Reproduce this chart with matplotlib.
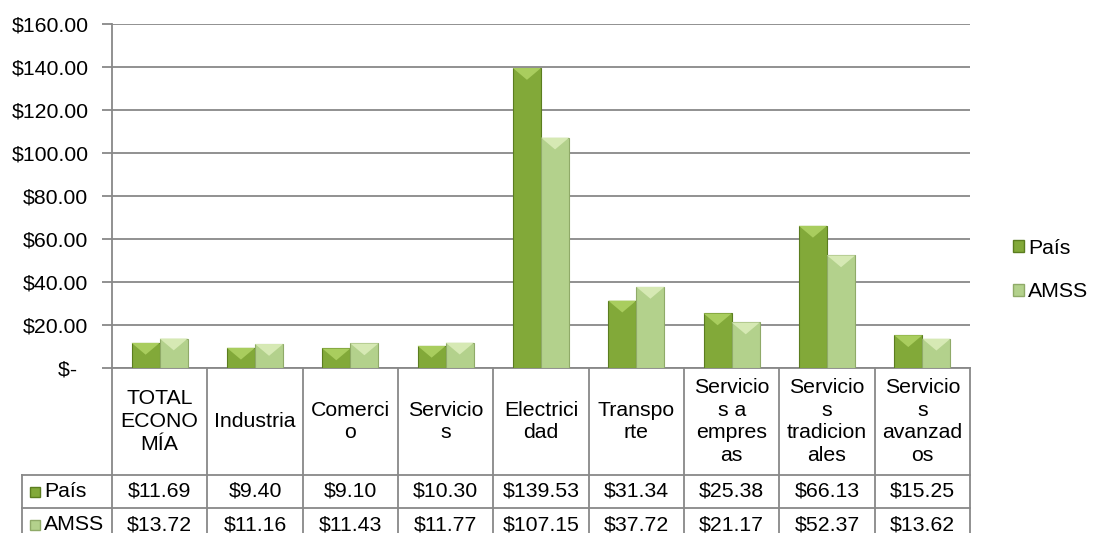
import numpy as np
import matplotlib.pyplot as plt
import matplotlib.transforms as mtransforms
from matplotlib.patches import Patch, Polygon

plt.rcParams['font.family'] = ['Liberation Sans', 'DejaVu Sans']

# data
categories = ['TOTAL\nECONO\nMÍA', 'Industria', 'Comerci\no', 'Servicio\ns',
              'Electrici\ndad', 'Transpo\nrte', 'Servicio\ns a\nempres\nas',
              'Servicio\ns\ntradicion\nales', 'Servicio\ns\navanzad\nos']
pais = [11.69, 9.40, 9.10, 10.30, 139.53, 31.34, 25.38, 66.13, 15.25]
amss = [13.72, 11.16, 11.43, 11.77, 107.15, 37.72, 21.17, 52.37, 13.62]
series_names = ['País', 'AMSS']
yticks = [0, 20, 40, 60, 80, 100, 120, 140, 160]

c_pais, e_pais, t_pais = '#82a939', '#5b7d1f', '#a9cd5e'
c_amss, e_amss, t_amss = '#b3d18c', '#8faa68', '#d6e9b4'
grid_c = '#888888'
fs = 15.3

fig = plt.figure(figsize=(11.07, 5.33), dpi=100)
ax = fig.add_axes([112 / 1107, 1 - 368 / 533, 858 / 1107, 344 / 533])

x = np.arange(len(categories))
w = 0.295
bp = ax.bar(x - w / 2, pais, w, color=c_pais, edgecolor=e_pais, linewidth=0.8, zorder=3)
ba = ax.bar(x + w / 2, amss, w, color=c_amss, edgecolor=e_amss, linewidth=0.8, zorder=3)

# bevel tip on top of each bar
for bars, tc in ((bp, t_pais), (ba, t_amss)):
    for b in bars:
        x0, h, bw = b.get_x(), b.get_height(), b.get_width()
        tri = Polygon([[x0, h], [x0 + bw, h], [x0 + bw / 2, h - 5.5]],
                      closed=True, facecolor=tc, edgecolor='none', zorder=4)
        ax.add_patch(tri)

ax.set_xlim(-0.5, len(categories) - 0.5)
ax.set_ylim(0, 160)
ax.set_yticks(yticks)
ax.set_yticklabels([r'\$-  ' if v == 0 else r'\$%.2f' % v for v in yticks], fontsize=fs)
ax.set_xticks([])
ax.tick_params(axis='y', length=7, width=1.3, color=grid_c, pad=10)
ax.yaxis.grid(True, color=grid_c, linewidth=1.3)
ax.set_axisbelow(True)
for s in ('top', 'right'):
    ax.spines[s].set_visible(False)
for s in ('left', 'bottom'):
    ax.spines[s].set_color(grid_c)
    ax.spines[s].set_linewidth(1.3)

# data table below the axis
trans = mtransforms.blended_transform_factory(ax.transData, ax.transAxes)
px = 344.0
colw = 858 / len(categories)
y_head = -107 / px
y_r1 = -140 / px
y_r2 = -173 / px
xl = -0.5 - 90 / colw
xr = len(categories) - 0.5
lk = dict(transform=trans, clip_on=False, color=grid_c, linewidth=1.3)

for i in range(len(categories) + 1):
    ax.plot([i - 0.5, i - 0.5], [0, y_r2], **lk)
ax.plot([xl, xl], [y_head, y_r2], **lk)
for yy in (y_head, y_r1, y_r2):
    ax.plot([xl, xr], [yy, yy], **lk)

for i, lab in enumerate(categories):
    ax.text(i, y_head / 2, lab, transform=trans, ha='center', va='center',
            multialignment='center', linespacing=1.25, fontsize=fs)
    ax.text(i, (y_head + y_r1) / 2, '$%.2f' % pais[i], transform=trans,
            ha='center', va='center', fontsize=fs)
    ax.text(i, (y_r1 + y_r2) / 2, '$%.2f' % amss[i], transform=trans,
            ha='center', va='center', fontsize=fs)

for yy, name, fc, ec in (((y_head + y_r1) / 2, series_names[0], c_pais, e_pais),
                         ((y_r1 + y_r2) / 2, series_names[1], c_amss, e_amss)):
    ax.plot([xl + 13 / colw], [yy], marker='s', markersize=6.5, color=fc,
            markeredgecolor=ec, transform=trans, clip_on=False)
    ax.text(xl + 22 / colw, yy, name, transform=trans, ha='left', va='center', fontsize=fs)

handles = [Patch(facecolor=c_pais, edgecolor=e_pais, label=series_names[0]),
           Patch(facecolor=c_amss, edgecolor=e_amss, label=series_names[1])]
fig.legend(handles=handles, loc='center left', bbox_to_anchor=(1013 / 1107, 1 - 270 / 533),
           frameon=False, fontsize=fs, handlelength=0.5, handleheight=0.5,
           handletextpad=0.2, labelspacing=1.15, borderpad=0, borderaxespad=0)

fig.savefig('out.png', dpi=100)
